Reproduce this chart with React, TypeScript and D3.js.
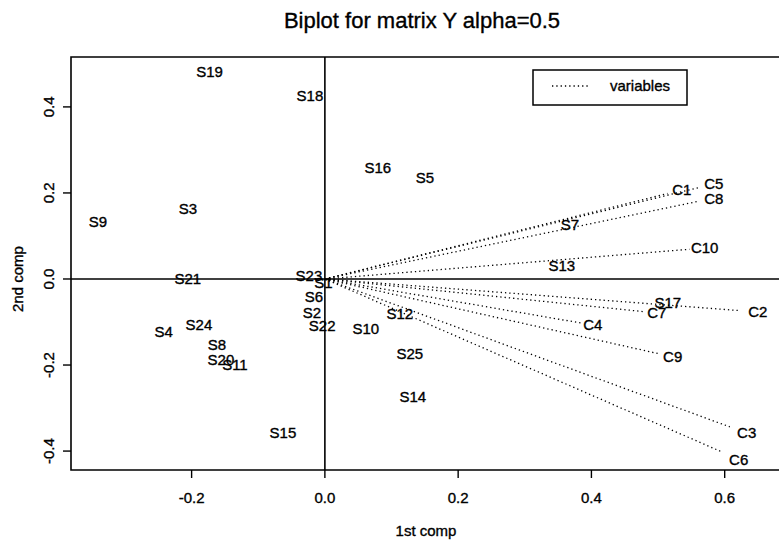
import React from 'react';
import * as d3 from 'd3';

// sample scores (rows)
const sampleNames = ['S1', 'S2', 'S3', 'S4', 'S5', 'S6', 'S7', 'S8', 'S9', 'S10', 'S11', 'S12', 'S13',
  'S14', 'S15', 'S16', 'S17', 'S18', 'S19', 'S20', 'S21', 'S22', 'S23', 'S24', 'S25'];
const sampleX = [-0.002, -0.0195, -0.2056, -0.242, 0.15, -0.0165, 0.3676, -0.162, -0.3406, 0.0615, -0.135, 0.1125, 0.3556,
  0.132, -0.063, 0.0795, 0.5146, -0.0225, -0.173, -0.156, -0.2056, -0.004, -0.024, -0.189, 0.1275];
const sampleY = [-0.009, -0.079, 0.163, -0.123, 0.235, -0.042, 0.1256, -0.153, 0.1326, -0.116, -0.198, -0.081, 0.030,
  -0.274, -0.356, 0.26, -0.056, 0.426, 0.481, -0.188, 0.002, -0.109, 0.009, -0.105, -0.174];

// variable loadings (columns)
const varNames = ['C1', 'C2', 'C3', 'C4', 'C5', 'C6', 'C7', 'C8', 'C9', 'C10'];
const varX = [0.5356, 0.6497, 0.633, 0.402, 0.5836, 0.621, 0.498, 0.5836, 0.522, 0.570];
const varY = [0.207, -0.0767, -0.358, -0.107, 0.221, -0.419, -0.079, 0.188, -0.181, 0.072];

const xTicks = [-0.2, 0.0, 0.2, 0.4, 0.6];
const yTicks = [-0.4, -0.2, 0.0, 0.2, 0.4];

const title = 'Biplot for matrix Y alpha=0.5';
const xLabel = '1st comp';
const yLabel = '2nd comp';
const legendLabel = 'variables';

export default function App() {
  const width = 779;
  const height = 542;
  const box = {left: 71, top: 57, right: 778, bottom: 470};
  const font = '"Liberation Sans", Arial, Helvetica, sans-serif';

  const x = d3.scaleLinear().domain([-0.381, 0.68]).range([box.left, box.right]);
  const y = d3.scaleLinear().domain([-0.444, 0.516]).range([box.bottom, box.top]);

  // scanned look: slightly heavier glyphs
  const ink = {fill: '#000', stroke: '#000', strokeWidth: 0.35};

  return (
    <svg width={width} height={height} style={{position: 'absolute', left: 0, top: 0, background: '#fff'}}
      fontFamily={font}>
      <rect x={0} y={0} width={width} height={height} fill="#fff"/>
      <text x={422} y={28} textAnchor="middle" fontSize={22} {...ink}>{title}</text>

      {/* frame */}
      <path d={`M${box.right + 5},${box.top}H${box.left}V${box.bottom}H${box.right + 5}`}
        fill="none" stroke="#000" strokeWidth={1.6}/>

      {/* zero lines */}
      <line x1={box.left} x2={width} y1={y(0)} y2={y(0)} stroke="#000" strokeWidth={1.6}/>
      <line x1={x(0)} x2={x(0)} y1={box.top} y2={box.bottom} stroke="#000" strokeWidth={1.6}/>

      {/* x axis */}
      {xTicks.map(t => (
        <g key={'x' + t}>
          <line x1={x(t)} x2={x(t)} y1={box.bottom} y2={box.bottom + 8} stroke="#000" strokeWidth={1.4}/>
          <text x={x(t)} y={503} textAnchor="middle" fontSize={15} {...ink}>{t.toFixed(1)}</text>
        </g>
      ))}
      <text x={426} y={536} textAnchor="middle" fontSize={15} {...ink}>{xLabel}</text>

      {/* y axis */}
      {yTicks.map(t => (
        <g key={'y' + t}>
          <line x1={box.left - 8} x2={box.left} y1={y(t)} y2={y(t)} stroke="#000" strokeWidth={1.4}/>
          <text transform={`translate(54,${y(t)}) rotate(-90)`} textAnchor="middle" fontSize={15} {...ink}>
            {t.toFixed(1)}
          </text>
        </g>
      ))}
      <text transform={`translate(23,${y(0)}) rotate(-90)`} textAnchor="middle" fontSize={15} {...ink}>
        {yLabel}
      </text>

      {/* variable arrows */}
      {varNames.map((name, i) => (
        <g key={name}>
          <line x1={x(0)} y1={y(0)} x2={x(varX[i] * 0.96)} y2={y(varY[i] * 0.96)}
            stroke="#000" strokeWidth={1.3} strokeDasharray="1.3,3"/>
          <text x={x(varX[i])} y={y(varY[i])} dy="0.36em" textAnchor="middle" fontSize={15} {...ink}>
            {name}
          </text>
        </g>
      ))}

      {/* samples */}
      {sampleNames.map((name, i) => (
        <text key={name} x={x(sampleX[i])} y={y(sampleY[i])} dy="0.36em" textAnchor="middle" fontSize={15}
          {...ink}>
          {name}
        </text>
      ))}

      {/* legend */}
      <rect x={533} y={70} width={154} height={35} fill="#fff" stroke="#000" strokeWidth={1.5}/>
      <line x1={552} x2={589} y1={86} y2={86} stroke="#000" strokeWidth={1.3} strokeDasharray="1.3,3"/>
      <text x={610} y={91} fontSize={15} {...ink}>{legendLabel}</text>
    </svg>
  );
}
